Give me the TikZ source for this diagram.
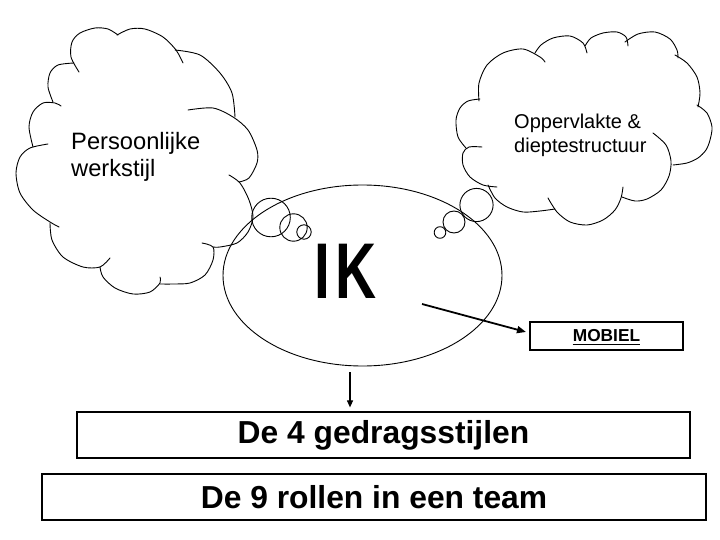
\documentclass[tikz,border=0pt]{standalone}
\usepackage{fontspec}
\setmainfont{Liberation Sans}
\usetikzlibrary{arrows.meta,shapes.geometric}
\begin{document}
\begin{tikzpicture}[x=1pt,y=1pt,yscale=-1,
  cl/.style={line width=0.9pt, line join=round, line cap=round},
  bx/.style={draw, line width=1.2pt, inner sep=0pt},
  boxtxt/.style={font=\bfseries\fontsize{31.8}{36}\selectfont},
  lbl/.style={inner sep=0pt, anchor=base west}]
\useasboundingbox (0,0) rectangle (720,540);
% ---------- left cloud ----------
\draw[cl] plot[smooth] coordinates {(79,72) (71,57) (72,42) (80,33) (95,28) (108,29) (118,35)};
\draw[cl] plot[smooth] coordinates {(117,35) (130,29) (145,29) (163,37) (176,50) (183,63)};
\draw[cl] plot[smooth] coordinates {(175,50) (200,55) (220,73) (232,93) (235,117)};
\draw[cl] plot[smooth] coordinates {(188,110) (213,108) (233,117) (248,130) (257,150) (257,163) (249,178) (239,182)};
\draw[cl] plot[smooth] coordinates {(229,175) (240,183) (249,200) (253,217) (248,232) (237,243) (220,247) (213,247)};
\draw[cl] plot[smooth] coordinates {(202,243) (213,247) (213,260) (205,275) (190,283) (173,284) (160,284)};
\draw[cl] plot[smooth] coordinates {(160,277) (160,283) (150,292) (133,294) (115,288) (103,277) (100,267)};
\draw[cl] plot[smooth] coordinates {(110,258) (100,267) (83,267) (63,257) (52,240) (50,223)};
\draw[cl] plot[smooth] coordinates {(59,227) (50,222) (33,210) (20,193) (16,173) (20,157) (30,148) (48,144)};
\draw[cl] plot[smooth] coordinates {(33,147) (29,127) (33,112) (43,103) (55,103) (61,106)};
\draw[cl] plot[smooth] coordinates {(53,102) (48,87) (50,73) (58,65) (74,63)};
% ---------- right cloud ----------
\draw[cl] plot[smooth] coordinates {(479,101) (479,83) (487,65) (503,53) (523,49) (540,57) (545,62)};
\draw[cl] plot[smooth] coordinates {(535,53) (541,45) (553,38) (570,36) (583,43) (587,53)};
\draw[cl] plot[smooth] coordinates {(585,46) (591,38) (603,33) (617,32) (626,37) (628,46)};
\draw[cl] plot[smooth] coordinates {(625,42) (638,34) (655,32) (670,39) (677,50) (678,58)};
\draw[cl] plot[smooth] coordinates {(675,55) (687,63) (697,77) (700,93) (698,107)};
\draw[cl] plot[smooth] coordinates {(697,105) (707,113) (712,127) (710,140) (706,150) (698,158) (687,163) (673,165)};
\draw[cl] plot[smooth] coordinates {(653,133) (666,145) (671,161) (669,176) (661,190) (647,199) (635,201) (622,197)};
\draw[cl] plot[smooth] coordinates {(623,187) (621,198) (615,210) (603,220) (587,225) (570,222) (557,212) (548,198)};
\draw[cl] plot[smooth] coordinates {(555,209) (540,211) (523,212) (507,207) (495,198) (488,185)};
\draw[cl] plot[smooth] coordinates {(497,187) (483,185) (470,177) (463,165) (463,153) (469,147) (482,147)};
\draw[cl] plot[smooth] coordinates {(466,148) (458,137) (456,120) (460,108) (468,101) (480,99)};
% ---------- thought bubbles ----------
\draw[cl] (271,217.5) circle[radius=19.3];
\draw[cl] (293.5,227.5) circle[radius=13.7];
\draw[cl] (304,232) circle[radius=7.2];
\draw[cl] (476.5,205) circle[radius=16.6];
\draw[cl] (454,222) circle[radius=11];
\draw[cl] (440,232.5) circle[radius=5.8];
% ---------- IK ellipse ----------
\node[draw, ellipse, line width=0.9pt, minimum width=279pt, minimum height=181pt, inner sep=0pt] (ell) at (362.5,275.5) {};
\node[inner sep=0pt, anchor=base, font=\bfseries\fontsize{79}{80}\selectfont] (ik) at (345.5,298.3) {\scalebox{0.72}[1]{I\kern8pt K}};
% ---------- cloud texts ----------
\node[lbl, font=\fontsize{23.7}{27}\selectfont] (pw1) at (71,150) {Persoonlijke};
\node[lbl, font=\fontsize{23.7}{27}\selectfont] (pw2) at (71,176.7) {werkstijl};
\node[lbl, font=\fontsize{20}{24}\selectfont] (od1) at (514,129) {Oppervlakte \&};
\node[lbl, font=\fontsize{20}{24}\selectfont] (od2) at (514,153) {dieptestructuur};
% ---------- MOBIEL ----------
\node[bx, line width=1.1pt, minimum width=153pt, minimum height=28pt] (mob) at (606.5,336) {};
\node[inner sep=0pt, anchor=base, font=\bfseries\fontsize{17.3}{20}\selectfont] (mobt) at (606.5,341.7) {MOBIEL};
\coordinate (ul) at (0,344.6);
\draw[line width=1.7pt] (mobt.base west |- ul) -- (mobt.base east |- ul);
\coordinate (astart) at (422,304);
\coordinate (aend) at (526,332);
\draw[line width=1.8pt, -{Triangle[length=9pt,width=7pt]}] (astart) -- (aend);
% ---------- boxes ----------
\node[bx, boxtxt, minimum width=613pt, minimum height=46pt] (b1) at (383.5,435) {De 4 gedragsstijlen};
\node[bx, boxtxt, minimum width=664pt, minimum height=46pt] (b2) at (374,497) {De 9 rollen in een team};
\coordinate (dstart) at (350,372);
\draw[line width=1.1pt, -{Triangle[length=7pt,width=6pt]}, shorten >=4pt] (dstart) -- (dstart |- b1.north);
\end{tikzpicture}
\end{document}
